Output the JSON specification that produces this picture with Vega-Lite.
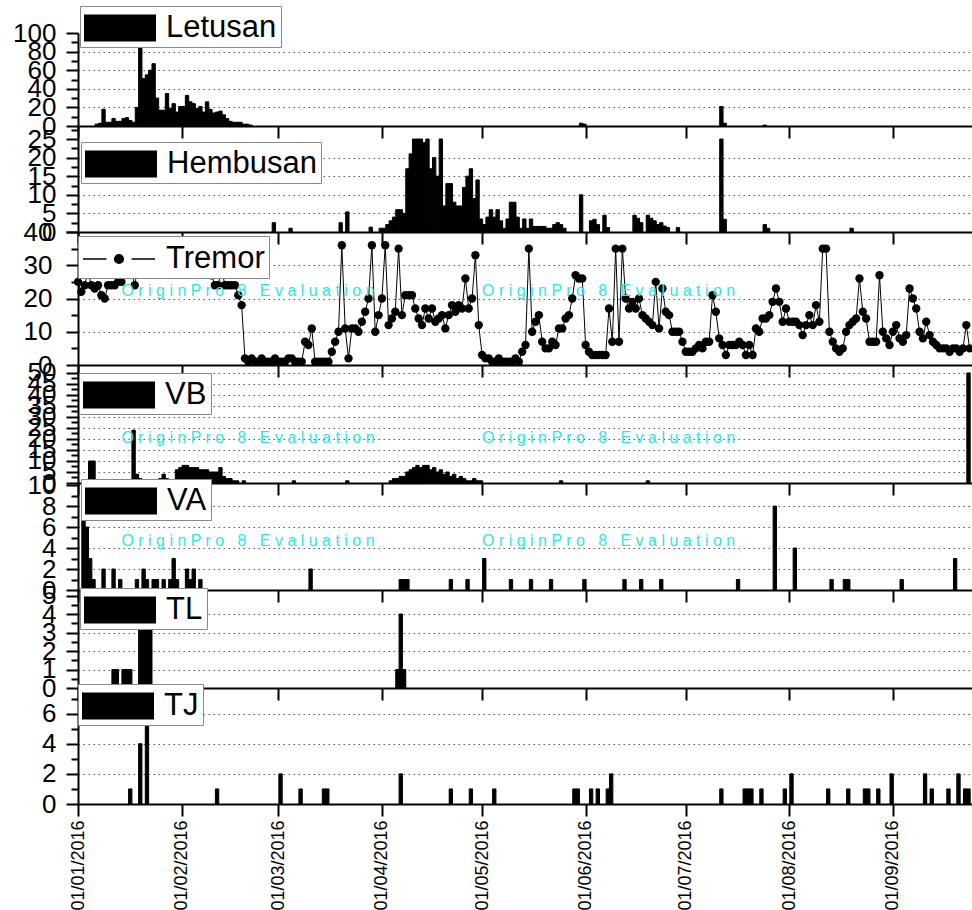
{
"$schema":"https://vega.github.io/schema/vega-lite/v6.json",
"background":"white",
"padding":{"left":12,"top":5,"right":0,"bottom":0},
"spacing":0,
"bounds":"flush",
"resolve":{"scale":{"y":"independent","color":"independent"},"legend":{"color":"independent"}},
"datasets":{
"L":[{"d":"2016-01-06","v":2},{"d":"2016-01-07","v":3},{"d":"2016-01-08","v":18},{"d":"2016-01-09","v":4},{"d":"2016-01-10","v":4},{"d":"2016-01-11","v":8},{"d":"2016-01-12","v":5},{"d":"2016-01-13","v":5},{"d":"2016-01-14","v":8},{"d":"2016-01-15","v":9},{"d":"2016-01-16","v":6},{"d":"2016-01-17","v":4},{"d":"2016-01-18","v":20},{"d":"2016-01-19","v":86},{"d":"2016-01-20","v":51},{"d":"2016-01-21","v":55},{"d":"2016-01-22","v":60},{"d":"2016-01-23","v":67},{"d":"2016-01-24","v":30},{"d":"2016-01-25","v":17},{"d":"2016-01-26","v":17},{"d":"2016-01-27","v":35},{"d":"2016-01-28","v":19},{"d":"2016-01-29","v":24},{"d":"2016-01-30","v":15},{"d":"2016-01-31","v":21},{"d":"2016-02-01","v":21},{"d":"2016-02-02","v":33},{"d":"2016-02-03","v":26},{"d":"2016-02-04","v":24},{"d":"2016-02-05","v":19},{"d":"2016-02-06","v":21},{"d":"2016-02-07","v":15},{"d":"2016-02-08","v":26},{"d":"2016-02-09","v":18},{"d":"2016-02-10","v":14},{"d":"2016-02-11","v":15},{"d":"2016-02-12","v":16},{"d":"2016-02-13","v":12},{"d":"2016-02-14","v":8},{"d":"2016-02-15","v":5},{"d":"2016-02-16","v":4},{"d":"2016-02-17","v":4},{"d":"2016-02-18","v":4},{"d":"2016-02-19","v":2},{"d":"2016-02-20","v":2},{"d":"2016-02-21","v":1},{"d":"2016-05-30","v":3},{"d":"2016-05-31","v":2},{"d":"2016-07-11","v":21},{"d":"2016-07-12","v":3},{"d":"2016-07-24","v":1}],
"H":[{"d":"2016-02-28","v":2.5},{"d":"2016-03-04","v":1},{"d":"2016-03-19","v":2.5},{"d":"2016-03-21","v":5.4},{"d":"2016-03-28","v":1.3},{"d":"2016-03-31","v":1},{"d":"2016-04-01","v":1},{"d":"2016-04-02","v":2},{"d":"2016-04-03","v":3},{"d":"2016-04-04","v":4},{"d":"2016-04-05","v":6},{"d":"2016-04-06","v":6},{"d":"2016-04-07","v":5},{"d":"2016-04-08","v":17},{"d":"2016-04-09","v":21},{"d":"2016-04-10","v":25},{"d":"2016-04-11","v":25},{"d":"2016-04-12","v":25},{"d":"2016-04-13","v":24},{"d":"2016-04-14","v":25},{"d":"2016-04-15","v":17},{"d":"2016-04-16","v":20},{"d":"2016-04-17","v":15},{"d":"2016-04-18","v":25},{"d":"2016-04-19","v":7},{"d":"2016-04-20","v":13},{"d":"2016-04-21","v":13},{"d":"2016-04-22","v":8},{"d":"2016-04-23","v":7},{"d":"2016-04-24","v":7},{"d":"2016-04-25","v":12},{"d":"2016-04-26","v":15},{"d":"2016-04-27","v":17},{"d":"2016-04-28","v":9},{"d":"2016-04-29","v":14},{"d":"2016-04-30","v":3.5},{"d":"2016-05-01","v":2},{"d":"2016-05-02","v":4},{"d":"2016-05-03","v":6},{"d":"2016-05-04","v":4},{"d":"2016-05-05","v":6},{"d":"2016-05-06","v":3},{"d":"2016-05-07","v":1},{"d":"2016-05-08","v":3.5},{"d":"2016-05-09","v":8},{"d":"2016-05-10","v":8},{"d":"2016-05-11","v":4},{"d":"2016-05-12","v":1},{"d":"2016-05-13","v":3.5},{"d":"2016-05-14","v":1},{"d":"2016-05-15","v":3.5},{"d":"2016-05-16","v":1.5},{"d":"2016-05-17","v":1.5},{"d":"2016-05-18","v":1.5},{"d":"2016-05-19","v":1.5},{"d":"2016-05-20","v":1},{"d":"2016-05-21","v":1},{"d":"2016-05-22","v":2},{"d":"2016-05-23","v":2.5},{"d":"2016-05-24","v":2},{"d":"2016-05-25","v":1},{"d":"2016-05-30","v":10},{"d":"2016-06-02","v":3},{"d":"2016-06-03","v":3.4},{"d":"2016-06-04","v":2},{"d":"2016-06-06","v":4.5},{"d":"2016-06-07","v":1.2},{"d":"2016-06-15","v":4.5},{"d":"2016-06-16","v":3.7},{"d":"2016-06-17","v":2.5},{"d":"2016-06-19","v":4.5},{"d":"2016-06-20","v":3.7},{"d":"2016-06-21","v":3},{"d":"2016-06-22","v":2},{"d":"2016-06-23","v":2.5},{"d":"2016-06-24","v":1.6},{"d":"2016-06-25","v":1.2},{"d":"2016-06-28","v":1.2},{"d":"2016-07-11","v":25},{"d":"2016-07-12","v":3.4},{"d":"2016-07-24","v":2},{"d":"2016-07-25","v":1},{"d":"2016-08-19","v":1}],
"T":[{"d":"2016-01-01","v":25},{"d":"2016-01-02","v":22},{"d":"2016-01-03","v":24},{"d":"2016-01-04","v":28},{"d":"2016-01-05","v":24},{"d":"2016-01-06","v":23},{"d":"2016-01-07","v":24},{"d":"2016-01-08","v":21},{"d":"2016-01-09","v":20},{"d":"2016-01-10","v":24},{"d":"2016-01-11","v":24},{"d":"2016-01-12","v":24},{"d":"2016-01-13","v":25},{"d":"2016-01-14","v":25},{"d":"2016-01-15","v":29},{"d":"2016-01-16","v":30},{"d":"2016-01-17","v":28},{"d":"2016-01-18","v":24},{"d":"2016-01-19","v":30},{"d":"2016-01-20","v":32},{"d":"2016-01-21","v":29},{"d":"2016-01-22","v":31},{"d":"2016-01-23","v":30},{"d":"2016-01-24","v":28},{"d":"2016-01-25","v":33},{"d":"2016-01-26","v":30},{"d":"2016-01-27","v":29},{"d":"2016-01-28","v":31},{"d":"2016-01-29","v":30},{"d":"2016-01-30","v":28},{"d":"2016-01-31","v":32},
{"d":"2016-02-01","v":30},{"d":"2016-02-02","v":29},{"d":"2016-02-03","v":31},{"d":"2016-02-04","v":30},{"d":"2016-02-05","v":28},{"d":"2016-02-06","v":32},{"d":"2016-02-07","v":29},{"d":"2016-02-08","v":30},{"d":"2016-02-09","v":28},{"d":"2016-02-10","v":27},{"d":"2016-02-11","v":24},{"d":"2016-02-12","v":24},{"d":"2016-02-13","v":29},{"d":"2016-02-14","v":24},{"d":"2016-02-15","v":24},{"d":"2016-02-16","v":24},{"d":"2016-02-17","v":24},{"d":"2016-02-18","v":21},{"d":"2016-02-19","v":18},{"d":"2016-02-20","v":2},{"d":"2016-02-21","v":1},{"d":"2016-02-22","v":2},{"d":"2016-02-23","v":1},{"d":"2016-02-24","v":1},{"d":"2016-02-25","v":2},{"d":"2016-02-26","v":1},{"d":"2016-02-27","v":1},{"d":"2016-02-28","v":1},{"d":"2016-02-29","v":2},
{"d":"2016-03-01","v":1},{"d":"2016-03-02","v":1},{"d":"2016-03-03","v":1},{"d":"2016-03-04","v":2},{"d":"2016-03-05","v":2},{"d":"2016-03-06","v":1},{"d":"2016-03-07","v":1},{"d":"2016-03-08","v":1},{"d":"2016-03-09","v":7},{"d":"2016-03-10","v":6},{"d":"2016-03-11","v":11},{"d":"2016-03-12","v":1},{"d":"2016-03-13","v":1},{"d":"2016-03-14","v":1},{"d":"2016-03-15","v":1},{"d":"2016-03-16","v":1},{"d":"2016-03-17","v":4},{"d":"2016-03-18","v":7},{"d":"2016-03-19","v":10},{"d":"2016-03-20","v":36},{"d":"2016-03-21","v":11},{"d":"2016-03-22","v":2},{"d":"2016-03-23","v":11},{"d":"2016-03-24","v":11},{"d":"2016-03-25","v":10},{"d":"2016-03-26","v":13},{"d":"2016-03-27","v":16},{"d":"2016-03-28","v":20},{"d":"2016-03-29","v":36},{"d":"2016-03-30","v":10},{"d":"2016-03-31","v":15},
{"d":"2016-04-01","v":20},{"d":"2016-04-02","v":36},{"d":"2016-04-03","v":12},{"d":"2016-04-04","v":14},{"d":"2016-04-05","v":16},{"d":"2016-04-06","v":35},{"d":"2016-04-07","v":15},{"d":"2016-04-08","v":21},{"d":"2016-04-09","v":21},{"d":"2016-04-10","v":21},{"d":"2016-04-11","v":17},{"d":"2016-04-12","v":14},{"d":"2016-04-13","v":12},{"d":"2016-04-14","v":17},{"d":"2016-04-15","v":14},{"d":"2016-04-16","v":17},{"d":"2016-04-17","v":13},{"d":"2016-04-18","v":14},{"d":"2016-04-19","v":15},{"d":"2016-04-20","v":11},{"d":"2016-04-21","v":15},{"d":"2016-04-22","v":18},{"d":"2016-04-23","v":16},{"d":"2016-04-24","v":18},{"d":"2016-04-25","v":17},{"d":"2016-04-26","v":26},{"d":"2016-04-27","v":17},{"d":"2016-04-28","v":20},{"d":"2016-04-29","v":33},{"d":"2016-04-30","v":12},
{"d":"2016-05-01","v":3},{"d":"2016-05-02","v":2},{"d":"2016-05-03","v":2},{"d":"2016-05-04","v":1},{"d":"2016-05-05","v":1},{"d":"2016-05-06","v":2},{"d":"2016-05-07","v":1},{"d":"2016-05-08","v":1},{"d":"2016-05-09","v":1},{"d":"2016-05-10","v":1},{"d":"2016-05-11","v":2},{"d":"2016-05-12","v":1},{"d":"2016-05-13","v":4},{"d":"2016-05-14","v":6},{"d":"2016-05-15","v":35},{"d":"2016-05-16","v":10},{"d":"2016-05-17","v":13},{"d":"2016-05-18","v":15},{"d":"2016-05-19","v":7},{"d":"2016-05-20","v":5},{"d":"2016-05-21","v":5},{"d":"2016-05-22","v":7},{"d":"2016-05-23","v":6},{"d":"2016-05-24","v":11},{"d":"2016-05-25","v":11},{"d":"2016-05-26","v":14},{"d":"2016-05-27","v":15},{"d":"2016-05-28","v":20},{"d":"2016-05-29","v":27},{"d":"2016-05-30","v":26},{"d":"2016-05-31","v":26},
{"d":"2016-06-01","v":6},{"d":"2016-06-02","v":4},{"d":"2016-06-03","v":3},{"d":"2016-06-04","v":3},{"d":"2016-06-05","v":3},{"d":"2016-06-06","v":3},{"d":"2016-06-07","v":3},{"d":"2016-06-08","v":17},{"d":"2016-06-09","v":7},{"d":"2016-06-10","v":35},{"d":"2016-06-11","v":7},{"d":"2016-06-12","v":35},{"d":"2016-06-13","v":20},{"d":"2016-06-14","v":17},{"d":"2016-06-15","v":19},{"d":"2016-06-16","v":17},{"d":"2016-06-17","v":20},{"d":"2016-06-18","v":15},{"d":"2016-06-19","v":14},{"d":"2016-06-20","v":13},{"d":"2016-06-21","v":12},{"d":"2016-06-22","v":25},{"d":"2016-06-23","v":11},{"d":"2016-06-24","v":23},{"d":"2016-06-25","v":16},{"d":"2016-06-26","v":15},{"d":"2016-06-27","v":10},{"d":"2016-06-28","v":10},{"d":"2016-06-29","v":10},{"d":"2016-06-30","v":7},
{"d":"2016-07-01","v":4},{"d":"2016-07-02","v":4},{"d":"2016-07-03","v":4},{"d":"2016-07-04","v":5},{"d":"2016-07-05","v":6},{"d":"2016-07-06","v":5},{"d":"2016-07-07","v":7},{"d":"2016-07-08","v":7},{"d":"2016-07-09","v":21},{"d":"2016-07-10","v":16},{"d":"2016-07-11","v":8},{"d":"2016-07-12","v":6},{"d":"2016-07-13","v":3},{"d":"2016-07-14","v":6},{"d":"2016-07-15","v":6},{"d":"2016-07-16","v":6},{"d":"2016-07-17","v":7},{"d":"2016-07-18","v":6},{"d":"2016-07-19","v":3},{"d":"2016-07-20","v":6},{"d":"2016-07-21","v":3},{"d":"2016-07-22","v":11},{"d":"2016-07-23","v":10},{"d":"2016-07-24","v":14},{"d":"2016-07-25","v":14},{"d":"2016-07-26","v":15},{"d":"2016-07-27","v":19},{"d":"2016-07-28","v":23},{"d":"2016-07-29","v":19},{"d":"2016-07-30","v":13},{"d":"2016-07-31","v":17},
{"d":"2016-08-01","v":13},{"d":"2016-08-02","v":13},{"d":"2016-08-03","v":13},{"d":"2016-08-04","v":12},{"d":"2016-08-05","v":9},{"d":"2016-08-06","v":12},{"d":"2016-08-07","v":15},{"d":"2016-08-08","v":12},{"d":"2016-08-09","v":18},{"d":"2016-08-10","v":13},{"d":"2016-08-11","v":35},{"d":"2016-08-12","v":35},{"d":"2016-08-13","v":10},{"d":"2016-08-14","v":7},{"d":"2016-08-15","v":5},{"d":"2016-08-16","v":4},{"d":"2016-08-17","v":5},{"d":"2016-08-18","v":10},{"d":"2016-08-19","v":12},{"d":"2016-08-20","v":13},{"d":"2016-08-21","v":14},{"d":"2016-08-22","v":26},{"d":"2016-08-23","v":16},{"d":"2016-08-24","v":14},{"d":"2016-08-25","v":7},{"d":"2016-08-26","v":7},{"d":"2016-08-27","v":7},{"d":"2016-08-28","v":27},{"d":"2016-08-29","v":10},{"d":"2016-08-30","v":8},{"d":"2016-08-31","v":6},
{"d":"2016-09-01","v":10},{"d":"2016-09-02","v":12},{"d":"2016-09-03","v":8},{"d":"2016-09-04","v":7},{"d":"2016-09-05","v":9},{"d":"2016-09-06","v":23},{"d":"2016-09-07","v":20},{"d":"2016-09-08","v":17},{"d":"2016-09-09","v":10},{"d":"2016-09-10","v":8},{"d":"2016-09-11","v":13},{"d":"2016-09-12","v":9},{"d":"2016-09-13","v":7},{"d":"2016-09-14","v":6},{"d":"2016-09-15","v":5},{"d":"2016-09-16","v":5},{"d":"2016-09-17","v":5},{"d":"2016-09-18","v":4},{"d":"2016-09-19","v":5},{"d":"2016-09-20","v":5},{"d":"2016-09-21","v":4},{"d":"2016-09-22","v":5},{"d":"2016-09-23","v":12},{"d":"2016-09-24","v":5}],
"VB":[{"d":"2016-01-03","v":1},{"d":"2016-01-04","v":10},{"d":"2016-01-05","v":10},{"d":"2016-01-06","v":1},{"d":"2016-01-09","v":1},{"d":"2016-01-17","v":24},{"d":"2016-01-18","v":4},{"d":"2016-01-19","v":2},{"d":"2016-01-20","v":1},{"d":"2016-01-23","v":1},{"d":"2016-01-25","v":2},{"d":"2016-01-26","v":4},{"d":"2016-01-27","v":2},{"d":"2016-01-28","v":1},{"d":"2016-01-30","v":6},{"d":"2016-01-31","v":7},{"d":"2016-02-01","v":8},{"d":"2016-02-02","v":8},{"d":"2016-02-03","v":7},{"d":"2016-02-04","v":7},{"d":"2016-02-05","v":7},{"d":"2016-02-06","v":6},{"d":"2016-02-07","v":6},{"d":"2016-02-08","v":6},{"d":"2016-02-09","v":5},{"d":"2016-02-10","v":5},{"d":"2016-02-11","v":5},{"d":"2016-02-12","v":7},{"d":"2016-02-13","v":3},{"d":"2016-02-14","v":2},{"d":"2016-02-15","v":2},{"d":"2016-02-16","v":1},{"d":"2016-02-17","v":1},{"d":"2016-02-19","v":1},{"d":"2016-03-05","v":1},{"d":"2016-03-21","v":1},{"d":"2016-04-03","v":1},{"d":"2016-04-04","v":2},{"d":"2016-04-05","v":2},{"d":"2016-04-06","v":3},{"d":"2016-04-07","v":3},{"d":"2016-04-08","v":5},{"d":"2016-04-09","v":6},{"d":"2016-04-10","v":7},{"d":"2016-04-11","v":8},{"d":"2016-04-12","v":7},{"d":"2016-04-13","v":8},{"d":"2016-04-14","v":8},{"d":"2016-04-15","v":6},{"d":"2016-04-16","v":7},{"d":"2016-04-17","v":5},{"d":"2016-04-18","v":6},{"d":"2016-04-19","v":4},{"d":"2016-04-20","v":5},{"d":"2016-04-21","v":3},{"d":"2016-04-22","v":4},{"d":"2016-04-23","v":2},{"d":"2016-04-24","v":3},{"d":"2016-04-25","v":2},{"d":"2016-04-26","v":1},{"d":"2016-04-27","v":1},{"d":"2016-04-28","v":2},{"d":"2016-04-29","v":1},{"d":"2016-04-30","v":1},{"d":"2016-05-24","v":1},{"d":"2016-06-19","v":1},{"d":"2016-09-23","v":50}],
"VA":[{"d":"2016-01-02","v":7},{"d":"2016-01-03","v":6},{"d":"2016-01-04","v":3},{"d":"2016-01-05","v":1},{"d":"2016-01-08","v":2},{"d":"2016-01-11","v":2},{"d":"2016-01-13","v":1},{"d":"2016-01-18","v":1},{"d":"2016-01-20","v":2},{"d":"2016-01-21","v":1},{"d":"2016-01-23","v":1},{"d":"2016-01-24","v":1},{"d":"2016-01-26","v":1},{"d":"2016-01-28","v":1},{"d":"2016-01-29","v":3},{"d":"2016-01-30","v":1},{"d":"2016-02-02","v":2},{"d":"2016-02-03","v":1},{"d":"2016-02-04","v":2},{"d":"2016-02-06","v":1},{"d":"2016-03-10","v":2},{"d":"2016-04-06","v":1},{"d":"2016-04-07","v":1},{"d":"2016-04-08","v":1},{"d":"2016-04-21","v":1},{"d":"2016-04-26","v":1},{"d":"2016-05-01","v":3},{"d":"2016-05-09","v":1},{"d":"2016-05-15","v":1},{"d":"2016-05-21","v":1},{"d":"2016-05-31","v":1},{"d":"2016-06-12","v":1},{"d":"2016-06-17","v":1},{"d":"2016-06-23","v":1},{"d":"2016-07-16","v":1},{"d":"2016-07-27","v":8},{"d":"2016-08-02","v":4},{"d":"2016-08-13","v":1},{"d":"2016-08-17","v":1},{"d":"2016-08-18","v":1},{"d":"2016-09-03","v":1},{"d":"2016-09-19","v":3}],
"TL":[{"d":"2016-01-11","v":1},{"d":"2016-01-12","v":1},{"d":"2016-01-14","v":1},{"d":"2016-01-15","v":1},{"d":"2016-01-16","v":1},{"d":"2016-01-19","v":4},{"d":"2016-01-20","v":4},{"d":"2016-01-21","v":4},{"d":"2016-01-22","v":4},{"d":"2016-04-05","v":1},{"d":"2016-04-06","v":4},{"d":"2016-04-07","v":1}],
"TJ":[{"d":"2016-01-16","v":1},{"d":"2016-01-19","v":4},{"d":"2016-01-21","v":7},{"d":"2016-02-11","v":1},{"d":"2016-03-01","v":2},{"d":"2016-03-07","v":1},{"d":"2016-03-14","v":1},{"d":"2016-03-15","v":1},{"d":"2016-04-06","v":2},{"d":"2016-04-21","v":1},{"d":"2016-04-27","v":1},{"d":"2016-05-04","v":1},{"d":"2016-05-28","v":1},{"d":"2016-05-29","v":1},{"d":"2016-06-02","v":1},{"d":"2016-06-04","v":1},{"d":"2016-06-07","v":1},{"d":"2016-06-08","v":2},{"d":"2016-07-11","v":1},{"d":"2016-07-18","v":1},{"d":"2016-07-19","v":1},{"d":"2016-07-20","v":1},{"d":"2016-07-23","v":1},{"d":"2016-07-30","v":1},{"d":"2016-08-01","v":2},{"d":"2016-08-12","v":1},{"d":"2016-08-18","v":1},{"d":"2016-08-23","v":1},{"d":"2016-08-24","v":1},{"d":"2016-08-27","v":1},{"d":"2016-08-31","v":2},{"d":"2016-09-10","v":2},{"d":"2016-09-12","v":1},{"d":"2016-09-17","v":1},{"d":"2016-09-20","v":2},{"d":"2016-09-22","v":1},{"d":"2016-09-23","v":1}],
"WT":[{"d":"2016-01-14","v":22.4,"s":"O r i g i n P r o \u00a0 8 \u00a0 E v a l u a t i o n"},{"d":"2016-05-01","v":22.4,"s":"O r i g i n P r o \u00a0 8 \u00a0 E v a l u a t i o n"}],
"WB":[{"d":"2016-01-14","v":20.5,"s":"O r i g i n P r o \u00a0 8 \u00a0 E v a l u a t i o n"},{"d":"2016-05-01","v":20.5,"s":"O r i g i n P r o \u00a0 8 \u00a0 E v a l u a t i o n"}],
"WA":[{"d":"2016-01-14","v":4.7,"s":"O r i g i n P r o \u00a0 8 \u00a0 E v a l u a t i o n"},{"d":"2016-05-01","v":4.7,"s":"O r i g i n P r o \u00a0 8 \u00a0 E v a l u a t i o n"}]
},
"vconcat":[
{"width":895,"height":93,"data":{"name":"L"},"mark":{"type":"bar","color":"black","binSpacing":0,"stroke":"black","strokeWidth":1},
"encoding":{
"x":{"field":"d","type":"temporal","timeUnit":"utcyearmonthdate","title":null,"scale":{"type":"utc","domain":[{"year":2016,"month":1,"date":1,"utc":true},{"year":2016,"month":9,"date":25,"utc":true}]},"axis":{"labels":false,"grid":false,"tickCount":{"interval":"month","step":1}}},
"y":{"field":"v","type":"quantitative","title":null,"scale":{"domain":[0,100],"nice":false},"axis":{"values":[0,10,20,30,40,50,60,70,80,90,100],"labelOverlap":false,"labelExpr":"datum.value % 20 === 0 ? '' + datum.value : ''","tickSize":{"condition":{"test":"datum.value % 20 === 0","value":12},"value":7},"gridOpacity":{"condition":{"test":"datum.value % 20 === 0 && datum.value > 0 && datum.value < 100","value":1},"value":0}}},
"color":{"datum":"Letusan","scale":{"range":["black"]},"legend":{"orient":"none","legendX":2,"legendY":-27,"title":null}}}},
{"width":895,"height":106,"data":{"name":"H"},"mark":{"type":"bar","color":"black","binSpacing":0,"stroke":"black","strokeWidth":1},
"encoding":{
"x":{"field":"d","type":"temporal","timeUnit":"utcyearmonthdate","title":null,"scale":{"type":"utc","domain":[{"year":2016,"month":1,"date":1,"utc":true},{"year":2016,"month":9,"date":25,"utc":true}]},"axis":{"labels":false,"grid":false,"tickCount":{"interval":"month","step":1}}},
"y":{"field":"v","type":"quantitative","title":null,"scale":{"domain":[0,28.5],"nice":false},"axis":{"values":[0,2.5,5,7.5,10,12.5,15,17.5,20,22.5,25,27.5],"labelOverlap":false,"labelExpr":"datum.value % 5 === 0 ? '' + datum.value : ''","tickSize":{"condition":{"test":"datum.value % 5 === 0","value":12},"value":7},"gridOpacity":{"condition":{"test":"datum.value % 5 === 0 && datum.value > 0 && datum.value < 25","value":1},"value":0}}},
"color":{"datum":"Hembusan","scale":{"range":["black"]},"legend":{"orient":"none","legendX":3,"legendY":16,"title":null}}}},
{"width":895,"height":133,
"encoding":{
"x":{"field":"d","type":"temporal","title":null,"scale":{"type":"utc","domain":[{"year":2016,"month":1,"date":1,"utc":true},{"year":2016,"month":9,"date":25,"utc":true}]},"axis":{"labels":false,"grid":false,"tickCount":{"interval":"month","step":1}}},
"y":{"field":"v","type":"quantitative","title":null,"scale":{"domain":[0,40],"nice":false},"axis":{"values":[0,5,10,15,20,25,30,35,40],"labelOverlap":false,"labelPadding":14,"labelExpr":"datum.value % 10 === 0 ? '' + datum.value : ''","tickSize":{"condition":{"test":"datum.value % 10 === 0","value":12},"value":7},"gridOpacity":{"condition":{"test":"datum.value % 10 === 0 && datum.value > 0 && datum.value < 40","value":1},"value":0}}}},
"layer":[
{"data":{"name":"T"},"mark":{"type":"line","color":"black","strokeWidth":1,"point":{"filled":true,"size":70,"color":"black"}},
"encoding":{"color":{"datum":"Tremor","scale":{"range":["black"]},"legend":{"orient":"none","legendX":0,"legendY":4,"title":null,"symbolType":"M-1,0H0.3M1.7,0H3M1.24,0A0.24,0.24 0 1,1 0.76,0A0.24,0.24 0 1,1 1.24,0","symbolStrokeWidth":1.5,"symbolStrokeColor":"black","symbolFillColor":"black"}}}},
{"data":{"name":"WT"},"mark":{"type":"text","color":"#2ee6e6","fontSize":16,"font":"Arial","align":"left","baseline":"middle"},
"encoding":{"text":{"field":"s"}}}
]},
{"width":895,"height":118,
"encoding":{
"x":{"field":"d","type":"temporal","timeUnit":"utcyearmonthdate","title":null,"scale":{"type":"utc","domain":[{"year":2016,"month":1,"date":1,"utc":true},{"year":2016,"month":9,"date":25,"utc":true}]},"axis":{"labels":false,"grid":false,"tickCount":{"interval":"month","step":1}}},
"y":{"field":"v","type":"quantitative","title":null,"scale":{"domain":[0,53.6],"nice":false},"axis":{"values":[0,2.5,5,7.5,10,12.5,15,17.5,20,22.5,25,27.5,30,32.5,35,37.5,40,42.5,45,47.5,50],"labelOverlap":false,"labelExpr":"datum.value % 5 === 0 ? '' + datum.value : ''","tickSize":{"condition":{"test":"datum.value % 5 === 0","value":12},"value":7},"gridOpacity":{"condition":{"test":"datum.value % 5 === 0 && datum.value > 0","value":1},"value":0}}}},
"layer":[
{"data":{"name":"VB"},"mark":{"type":"bar","color":"black","binSpacing":0,"stroke":"black","strokeWidth":1},
"encoding":{"color":{"datum":"VB","scale":{"range":["black"]},"legend":{"orient":"none","legendX":1,"legendY":8,"title":null}}}},
{"data":{"name":"WB"},"mark":{"type":"text","color":"#2ee6e6","fontSize":16,"font":"Arial","align":"left","baseline":"middle"},
"encoding":{"text":{"field":"s"}}}
]},
{"width":895,"height":107,
"encoding":{
"x":{"field":"d","type":"temporal","timeUnit":"utcyearmonthdate","title":null,"scale":{"type":"utc","domain":[{"year":2016,"month":1,"date":1,"utc":true},{"year":2016,"month":9,"date":25,"utc":true}]},"axis":{"labels":false,"grid":false,"tickCount":{"interval":"month","step":1}}},
"y":{"field":"v","type":"quantitative","title":null,"scale":{"domain":[0,10.2],"nice":false},"axis":{"values":[0,1,2,3,4,5,6,7,8,9,10],"labelOverlap":false,"labelExpr":"datum.value % 2 === 0 ? '' + datum.value : ''","tickSize":{"condition":{"test":"datum.value % 2 === 0","value":12},"value":7},"gridOpacity":{"condition":{"test":"datum.value % 2 === 0 && datum.value > 0 && datum.value < 10","value":1},"value":0}}}},
"layer":[
{"data":{"name":"VA"},"mark":{"type":"bar","color":"black","binSpacing":0,"stroke":"black","strokeWidth":1},
"encoding":{"color":{"datum":"VA","scale":{"range":["black"]},"legend":{"orient":"none","legendX":3,"legendY":-4,"title":null}}}},
{"data":{"name":"WA"},"mark":{"type":"text","color":"#2ee6e6","fontSize":16,"font":"Arial","align":"left","baseline":"middle"},
"encoding":{"text":{"field":"s"}}}
]},
{"width":895,"height":98,"data":{"name":"TL"},"mark":{"type":"bar","color":"black","binSpacing":0,"stroke":"black","strokeWidth":1},
"encoding":{
"x":{"field":"d","type":"temporal","timeUnit":"utcyearmonthdate","title":null,"scale":{"type":"utc","domain":[{"year":2016,"month":1,"date":1,"utc":true},{"year":2016,"month":9,"date":25,"utc":true}]},"axis":{"labels":false,"grid":false,"tickCount":{"interval":"month","step":1}}},
"y":{"field":"v","type":"quantitative","title":null,"scale":{"domain":[0,5.3],"nice":false},"axis":{"values":[0,0.5,1,1.5,2,2.5,3,3.5,4,4.5,5],"labelOverlap":false,"labelExpr":"datum.value % 1 === 0 ? '' + datum.value : ''","tickSize":{"condition":{"test":"datum.value % 1 === 0","value":12},"value":7},"gridOpacity":{"condition":{"test":"datum.value % 1 === 0 && datum.value > 0 && datum.value < 5","value":1},"value":0}}},
"color":{"datum":"TL","scale":{"range":["black"]},"legend":{"orient":"none","legendX":2,"legendY":-2,"title":null}}}},
{"width":895,"height":116,"data":{"name":"TJ"},"mark":{"type":"bar","color":"black","binSpacing":0,"stroke":"black","strokeWidth":1},
"encoding":{
"x":{"field":"d","type":"temporal","timeUnit":"utcyearmonthdate","title":null,"scale":{"type":"utc","domain":[{"year":2016,"month":1,"date":1,"utc":true},{"year":2016,"month":9,"date":25,"utc":true}]},"axis":{"labels":true,"grid":false,"tickCount":{"interval":"month","step":1},"format":"%d/%m/%Y","labelAngle":270,"labelFontSize":18,"labelFont":"Arial","labelColor":"black","labelPadding":4,"labelFlush":false,"labelOverlap":false}},
"y":{"field":"v","type":"quantitative","title":null,"scale":{"domain":[0,7.7],"nice":false},"axis":{"values":[0,1,2,3,4,5,6,7],"labelOverlap":false,"labelExpr":"datum.value % 2 === 0 ? '' + datum.value : ''","tickSize":{"condition":{"test":"datum.value % 2 === 0","value":12},"value":7},"gridOpacity":{"condition":{"test":"datum.value % 2 === 0 && datum.value > 0","value":1},"value":0}}},
"color":{"datum":"TJ","scale":{"range":["black"]},"legend":{"orient":"none","legendX":0,"legendY":-4,"title":null}}}}
],
"config":{
"font":"Arial",
"view":{"stroke":null},
"axis":{"domainColor":"black","domainWidth":2,"tickColor":"black","tickWidth":2,"labelColor":"black","labelFont":"Arial"},
"axisX":{"tickSize":12},
"axisY":{"labelFontSize":26,"labelOverlap":false,"labelFlush":false,"labelBound":false,"labelPadding":10,"grid":true,"gridColor":"#555","gridDash":[1.5,3.5],"gridWidth":1},
"legend":{"fillColor":"white","strokeColor":"#888","padding":4,"labelFont":"Arial","labelFontSize":31,"labelColor":"black","labelOffset":46,"symbolType":"M-1,-0.75H3V0.75H-1Z","symbolSize":1296,"symbolStrokeWidth":0,"symbolFillColor":"black","symbolOpacity":1}
}
}
